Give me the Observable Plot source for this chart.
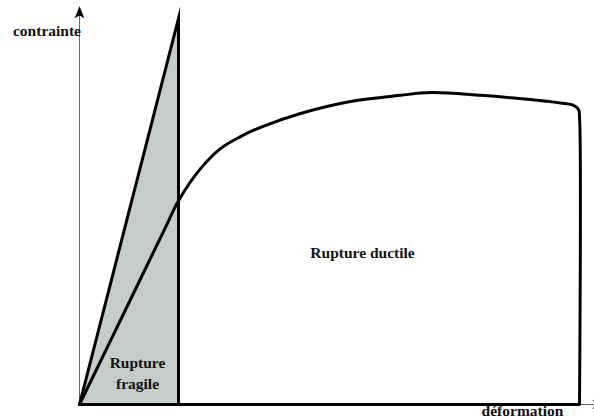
<!DOCTYPE html>
<html>
<head>
<meta charset="utf-8">
<script src="https://cdn.jsdelivr.net/npm/d3@7"></script>
<script src="https://cdn.jsdelivr.net/npm/@observablehq/plot@0.6"></script>
<style>
  html, body { margin: 0; padding: 0; background: #fff; }
  svg { display: block; }
</style>
</head>
<body>
<div id="chart"></div>
<script>
// Brittle rupture (triangle): strain / stress
const brittleX = [0, 19.8, 19.8];
const brittleY = [0, 100, 0];

// Ductile rupture curve
const ductileX = [0, 10.2, 17.2, 19.8, 24.2, 28.2, 32.2, 36.2, 44.2, 54.2, 64.2, 70.2, 80.2, 90.2, 96.2, 98.6, 99.8, 100, 100];
const ductileY = [0, 27.2, 45.9, 52.8, 61.1, 66.3, 69.4, 71.8, 75.4, 78.5, 80.1, 80.8, 80.1, 79.0, 78.1, 77.6, 76.4, 74.6, 0];

// Labels
const yLabel = [{x: 0.3, y: 97.3, text: "contrainte"}];
const centeredLabels = [
  {x: 11.6, y: 8.4, text: "Rupture\nfragile"},
  {x: 56.6, y: 39.6, text: "Rupture ductile"},
  {x: 88.6, y: -1.3, text: "déformation"}
];

const axisEnd = 101.3;
const xAxisEnd = 103.6;

const brittle = brittleX.map((x, i) => ({x, y: brittleY[i]}));
const ductile = ductileX.map((x, i) => ({x, y: ductileY[i]}));

const stealth = {
  draw(context, size) {
    const r = Math.sqrt(size / Math.PI);
    context.moveTo(0, -1.2 * r);
    context.lineTo(0.8 * r, 0.8 * r);
    context.lineTo(0, 0.35 * r);
    context.lineTo(-0.8 * r, 0.8 * r);
    context.closePath();
  }
};

const serif = "Liberation Serif";
const textStyle = {x: "x", y: "y", text: "text", fontSize: 15.5, fontWeight: "bold", fontFamily: serif, fill: "#111", lineHeight: 1.35};

const chart = Plot.plot({
  width: 594,
  height: 418,
  marginLeft: 79,
  marginRight: 15,
  marginTop: 18,
  marginBottom: 14,
  x: {domain: [0, 100], axis: null},
  y: {domain: [0, 100], axis: null},
  style: {fontFamily: serif, background: "#fff", overflow: "visible"},
  marks: [
    // thin axes
    Plot.ruleX([0], {y1: 0, y2: axisEnd, stroke: "#666", strokeWidth: 1}),
    Plot.ruleY([0], {x1: 0, x2: xAxisEnd, stroke: "#666", strokeWidth: 1}),
    Plot.dot([{x: 0, y: axisEnd}], {x: "x", y: "y", symbol: stealth, r: 6, fill: "#000", stroke: "none"}),
    Plot.dot([{x: xAxisEnd, y: 0}], {x: "x", y: "y", symbol: stealth, r: 6, fill: "#000", stroke: "none", rotate: 90}),
    // brittle triangle
    Plot.areaY(brittle.slice(0, 2), {x: "x", y: "y", fill: "#c4cdca"}),
    Plot.line(brittle, {x: "x", y: "y", stroke: "#000", strokeWidth: 3, strokeLinejoin: "miter", strokeMiterlimit: 20}),
    // base line
    Plot.ruleY([0], {x1: 0, x2: 100, stroke: "#000", strokeWidth: 3}),
    // ductile curve
    Plot.line(ductile, {x: "x", y: "y", stroke: "#000", strokeWidth: 3, curve: "catmull-rom", strokeLinejoin: "round"}),
    // labels
    Plot.text(yLabel, {...textStyle, textAnchor: "end"}),
    Plot.text(centeredLabels, {...textStyle, textAnchor: "middle"})
  ]
});

document.getElementById("chart").appendChild(chart);
</script>
</body>
</html>
